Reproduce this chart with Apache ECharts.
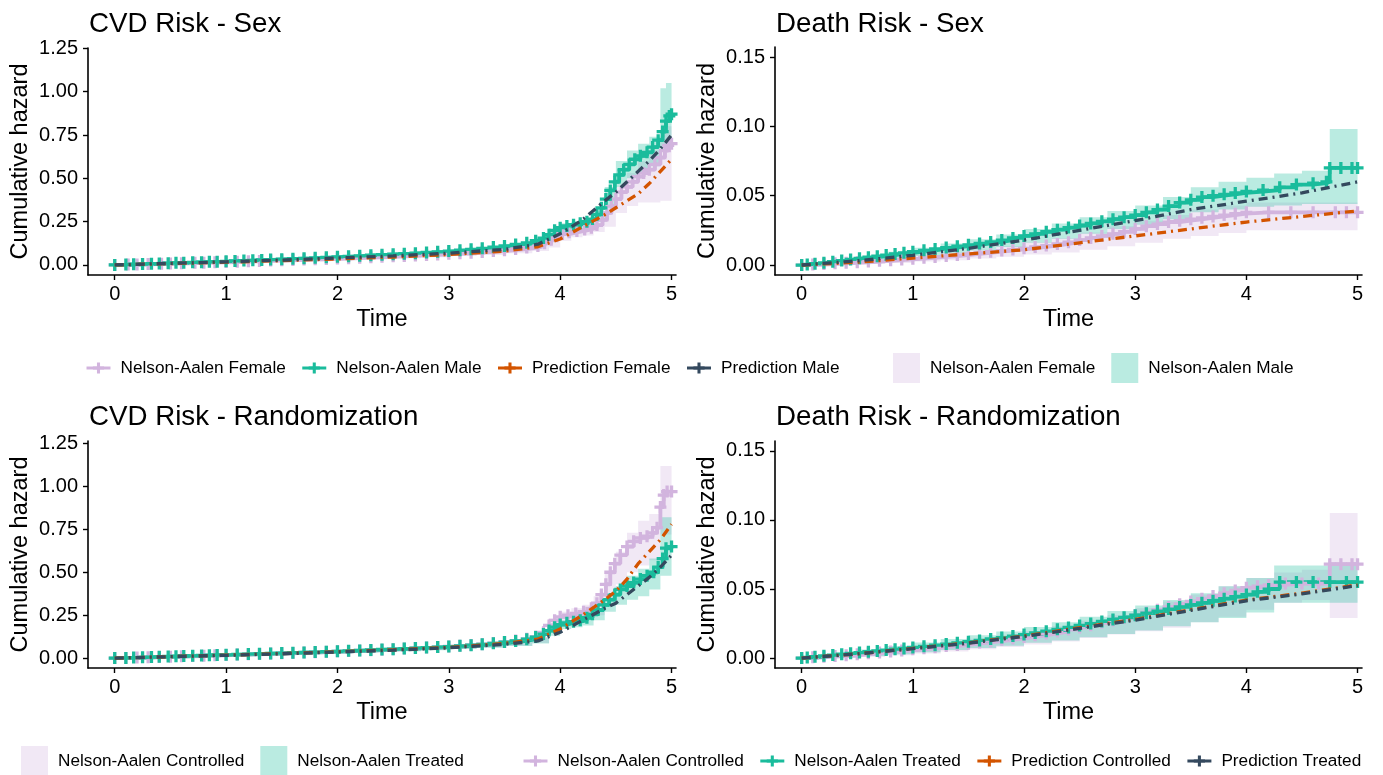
<!DOCTYPE html>
<html>
<head>
<meta charset="utf-8">
<script src="https://cdn.jsdelivr.net/npm/echarts@6/dist/echarts.min.js"></script>
<style>
html, body { margin: 0; padding: 0; background: #fff; }
#main { width: 1383px; height: 775px; }
</style>
</head>
<body>
<div id="main"></div>
<script>
// Nelson-Aalen steps are [time, cumulative hazard]; bands are [time, lower, upper]

// ---- CVD risk by sex ----
let cvdSexFemale = [[0,0],[0.12,0.002],[0.2,0.003],[0.3,0.005],[0.42,0.007],[0.5,0.008],[0.6,0.01],[0.72,0.012],[0.8,0.013],[0.9,0.015],[1.0,0.017],[1.1,0.019],[1.2,0.021],[1.3,0.023],[1.4,0.025],[1.5,0.027],[1.6,0.029],[1.7,0.031],[1.8,0.033],[1.9,0.035],[2.0,0.037],[2.1,0.039],[2.2,0.042],[2.3,0.044],[2.4,0.047],[2.5,0.05],[2.6,0.052],[2.7,0.055],[2.8,0.058],[2.9,0.061],[3.0,0.064],[3.1,0.067],[3.2,0.071],[3.3,0.075],[3.4,0.08],[3.5,0.085],[3.6,0.092],[3.7,0.1],[3.8,0.11],[3.86,0.125],[3.92,0.145],[3.97,0.165],[4.02,0.178],[4.08,0.188],[4.15,0.196],[4.22,0.205],[4.28,0.215],[4.33,0.23],[4.38,0.26],[4.42,0.3],[4.46,0.34],[4.5,0.38],[4.55,0.42],[4.6,0.45],[4.65,0.48],[4.7,0.51],[4.75,0.53],[4.8,0.55],[4.85,0.58],[4.9,0.62],[4.94,0.66],[4.97,0.69],[5.0,0.7]]
let cvdSexMale = [[0,0],[0.1,0.002],[0.17,0.004],[0.25,0.005],[0.33,0.007],[0.4,0.008],[0.48,0.01],[0.55,0.012],[0.62,0.013],[0.7,0.015],[0.78,0.016],[0.85,0.018],[0.92,0.019],[1.0,0.021],[1.08,0.023],[1.16,0.025],[1.24,0.027],[1.32,0.029],[1.4,0.031],[1.5,0.033],[1.6,0.036],[1.7,0.038],[1.8,0.041],[1.9,0.044],[2.0,0.047],[2.1,0.05],[2.2,0.053],[2.3,0.056],[2.4,0.059],[2.5,0.062],[2.6,0.065],[2.7,0.068],[2.8,0.072],[2.9,0.076],[3.0,0.08],[3.1,0.085],[3.2,0.09],[3.3,0.096],[3.4,0.103],[3.5,0.11],[3.6,0.118],[3.7,0.128],[3.78,0.14],[3.85,0.155],[3.9,0.175],[3.95,0.2],[4.0,0.215],[4.06,0.225],[4.12,0.232],[4.18,0.24],[4.24,0.25],[4.29,0.265],[4.33,0.29],[4.37,0.33],[4.41,0.38],[4.45,0.43],[4.49,0.48],[4.53,0.52],[4.57,0.55],[4.62,0.58],[4.67,0.61],[4.72,0.63],[4.78,0.65],[4.83,0.68],[4.88,0.72],[4.92,0.77],[4.95,0.83],[4.98,0.86],[5.0,0.87]]
let cvdSexPredFemale = [[0,0],[0.5,0.008],[1,0.016],[1.5,0.025],[2,0.035],[2.5,0.046],[3,0.06],[3.5,0.08],[3.8,0.105],[4,0.15],[4.2,0.22],[4.4,0.29],[4.5,0.33],[4.6,0.37],[4.7,0.41],[4.8,0.47],[4.9,0.54],[5,0.61]]
let cvdSexPredMale = [[0,0],[0.5,0.009],[1,0.018],[1.5,0.028],[2,0.04],[2.5,0.052],[3,0.068],[3.5,0.09],[3.8,0.12],[4,0.18],[4.2,0.26],[4.4,0.37],[4.5,0.42],[4.6,0.48],[4.7,0.54],[4.8,0.6],[4.9,0.67],[5,0.75]]
let cvdSexFemaleBand = [[0,0,0],[0.25,0.002,0.008],[0.5,0.005,0.012],[0.75,0.009,0.017],[1.0,0.013,0.022],[1.25,0.017,0.027],[1.5,0.021,0.032],[1.75,0.025,0.038],[2.0,0.029,0.044],[2.25,0.034,0.05],[2.5,0.039,0.057],[2.75,0.045,0.065],[3.0,0.051,0.074],[3.25,0.058,0.085],[3.5,0.068,0.098],[3.75,0.08,0.115],[3.9,0.1,0.16],[4.0,0.14,0.2],[4.1,0.16,0.215],[4.2,0.17,0.235],[4.3,0.19,0.26],[4.4,0.22,0.32],[4.5,0.3,0.45],[4.6,0.34,0.53],[4.7,0.36,0.6],[4.8,0.36,0.66],[4.9,0.37,0.8],[5.0,0.37,0.8]]
let cvdSexMaleBand = [[0,0,0],[0.25,0.003,0.008],[0.5,0.007,0.013],[0.75,0.012,0.019],[1.0,0.017,0.025],[1.25,0.022,0.031],[1.5,0.028,0.038],[1.75,0.034,0.045],[2.0,0.041,0.053],[2.25,0.047,0.06],[2.5,0.054,0.069],[2.75,0.061,0.078],[3.0,0.07,0.089],[3.25,0.08,0.102],[3.5,0.095,0.12],[3.75,0.115,0.145],[3.9,0.16,0.2],[4.0,0.195,0.24],[4.1,0.21,0.25],[4.2,0.22,0.265],[4.3,0.25,0.31],[4.4,0.34,0.45],[4.5,0.45,0.6],[4.6,0.5,0.66],[4.7,0.53,0.7],[4.8,0.57,0.74],[4.9,0.68,1.02],[4.95,0.7,1.05],[5.0,0.7,1.05]]

// ---- Death risk by sex ----
let deathSexFemale = [[0,0],[0.1,0.0003],[0.2,0.0007],[0.3,0.0012],[0.4,0.0016],[0.5,0.002],[0.6,0.0025],[0.7,0.003],[0.8,0.0035],[0.9,0.004],[1.0,0.0046],[1.1,0.0052],[1.2,0.0058],[1.3,0.0065],[1.4,0.0072],[1.5,0.008],[1.6,0.0088],[1.7,0.0096],[1.8,0.0104],[1.9,0.0112],[2.0,0.012],[2.1,0.013],[2.2,0.014],[2.3,0.0152],[2.4,0.0165],[2.5,0.018],[2.6,0.0195],[2.7,0.021],[2.8,0.0225],[2.9,0.024],[3.0,0.026],[3.1,0.028],[3.2,0.0295],[3.3,0.031],[3.4,0.032],[3.5,0.033],[3.6,0.034],[3.7,0.035],[3.8,0.036],[3.9,0.037],[4.0,0.038],[4.2,0.038],[4.4,0.038],[4.6,0.038],[4.8,0.038],[4.9,0.038],[5.0,0.038]]
let deathSexMale = [[0,0],[0.05,0.0004],[0.12,0.001],[0.2,0.0016],[0.28,0.0024],[0.36,0.0032],[0.44,0.004],[0.52,0.0048],[0.6,0.0056],[0.68,0.0064],[0.76,0.0072],[0.84,0.008],[0.92,0.0088],[1.0,0.0096],[1.1,0.0106],[1.2,0.0116],[1.3,0.0126],[1.4,0.0136],[1.5,0.0146],[1.6,0.0156],[1.7,0.0166],[1.8,0.018],[1.9,0.0195],[2.0,0.021],[2.1,0.0225],[2.2,0.024],[2.3,0.0255],[2.4,0.027],[2.5,0.0285],[2.6,0.03],[2.7,0.0315],[2.8,0.033],[2.9,0.0345],[3.0,0.036],[3.1,0.038],[3.2,0.04],[3.3,0.0425],[3.4,0.045],[3.5,0.047],[3.6,0.049],[3.7,0.05],[3.8,0.051],[3.9,0.052],[4.0,0.053],[4.15,0.054],[4.3,0.056],[4.45,0.058],[4.6,0.059],[4.72,0.06],[4.75,0.07],[4.85,0.07],[4.95,0.07],[5.0,0.07]]
let deathSexPredFemale = [[0,0],[0.5,0.002],[1,0.005],[1.5,0.008],[2,0.011],[2.5,0.016],[3,0.021],[3.5,0.026],[4,0.031],[4.5,0.035],[5,0.039]]
let deathSexPredMale = [[0,0],[0.5,0.003],[1,0.007],[1.5,0.012],[2,0.018],[2.5,0.025],[3,0.032],[3.5,0.04],[4,0.046],[4.5,0.052],[5,0.06]]
let deathSexFemaleBand = [[0,0,0],[0.25,0.0002,0.002],[0.5,0.0008,0.0035],[0.75,0.0015,0.005],[1.0,0.0025,0.0068],[1.25,0.0035,0.0088],[1.5,0.0047,0.011],[1.75,0.006,0.0135],[2.0,0.0075,0.0165],[2.25,0.009,0.0195],[2.5,0.011,0.0235],[2.75,0.0135,0.028],[3.0,0.016,0.032],[3.25,0.019,0.036],[3.5,0.021,0.04],[3.75,0.023,0.043],[4.0,0.025,0.045],[4.5,0.025,0.045],[5.0,0.025,0.045]]
let deathSexMaleBand = [[0,0,0],[0.25,0.0008,0.003],[0.5,0.0025,0.0065],[0.75,0.0045,0.0095],[1.0,0.0065,0.0125],[1.25,0.0085,0.0155],[1.5,0.0105,0.0185],[1.75,0.013,0.022],[2.0,0.016,0.026],[2.25,0.019,0.03],[2.5,0.0225,0.0345],[2.75,0.026,0.039],[3.0,0.029,0.043],[3.25,0.033,0.049],[3.5,0.038,0.056],[3.75,0.04,0.06],[4.0,0.042,0.063],[4.25,0.043,0.066],[4.5,0.044,0.068],[4.75,0.044,0.098],[5.0,0.044,0.098]]

// ---- CVD risk by randomization ----
let cvdRandCtrl = [[0,0],[0.1,0.001],[0.2,0.003],[0.3,0.005],[0.4,0.006],[0.5,0.008],[0.6,0.01],[0.7,0.012],[0.8,0.014],[0.9,0.016],[1.0,0.018],[1.1,0.02],[1.2,0.022],[1.3,0.024],[1.4,0.026],[1.5,0.028],[1.6,0.03],[1.7,0.032],[1.8,0.034],[1.9,0.036],[2.0,0.039],[2.1,0.041],[2.2,0.044],[2.3,0.046],[2.4,0.049],[2.5,0.052],[2.6,0.055],[2.7,0.058],[2.8,0.061],[2.9,0.064],[3.0,0.068],[3.1,0.072],[3.2,0.076],[3.3,0.081],[3.4,0.087],[3.5,0.094],[3.6,0.102],[3.7,0.112],[3.78,0.125],[3.85,0.15],[3.9,0.19],[3.95,0.22],[4.0,0.24],[4.07,0.25],[4.14,0.26],[4.21,0.27],[4.28,0.29],[4.33,0.32],[4.37,0.37],[4.41,0.43],[4.45,0.5],[4.49,0.55],[4.54,0.6],[4.6,0.65],[4.66,0.68],[4.72,0.7],[4.78,0.71],[4.83,0.73],[4.87,0.76],[4.9,0.88],[4.93,0.95],[4.96,0.97],[5.0,0.97]]
let cvdRandTrt = [[0,0],[0.1,0.001],[0.17,0.003],[0.25,0.004],[0.33,0.006],[0.4,0.007],[0.48,0.009],[0.55,0.01],[0.62,0.012],[0.7,0.013],[0.78,0.015],[0.85,0.016],[0.92,0.018],[1.0,0.019],[1.1,0.021],[1.2,0.023],[1.3,0.025],[1.4,0.027],[1.5,0.029],[1.6,0.031],[1.7,0.033],[1.8,0.035],[1.9,0.037],[2.0,0.039],[2.1,0.042],[2.2,0.044],[2.3,0.047],[2.4,0.05],[2.5,0.052],[2.6,0.055],[2.7,0.058],[2.8,0.061],[2.9,0.064],[3.0,0.067],[3.1,0.071],[3.2,0.075],[3.3,0.08],[3.4,0.086],[3.5,0.093],[3.6,0.1],[3.7,0.11],[3.78,0.122],[3.85,0.14],[3.9,0.16],[3.95,0.18],[4.0,0.195],[4.06,0.205],[4.12,0.212],[4.18,0.22],[4.24,0.235],[4.29,0.255],[4.34,0.28],[4.39,0.31],[4.44,0.34],[4.49,0.37],[4.54,0.4],[4.6,0.42],[4.66,0.44],[4.72,0.46],[4.78,0.48],[4.84,0.5],[4.88,0.53],[4.92,0.58],[4.95,0.64],[5.0,0.65]]
let cvdRandPredCtrl = [[0,0],[0.5,0.008],[1,0.017],[1.5,0.026],[2,0.037],[2.5,0.048],[3,0.062],[3.5,0.085],[3.8,0.11],[4,0.17],[4.2,0.25],[4.4,0.34],[4.5,0.39],[4.6,0.46],[4.7,0.55],[4.8,0.62],[4.9,0.69],[5,0.78]]
let cvdRandPredTrt = [[0,0],[0.5,0.008],[1,0.016],[1.5,0.025],[2,0.035],[2.5,0.046],[3,0.06],[3.5,0.08],[3.8,0.1],[4,0.15],[4.2,0.22],[4.4,0.29],[4.5,0.32],[4.6,0.37],[4.7,0.42],[4.8,0.47],[4.9,0.53],[5,0.6]]
let cvdRandCtrlBand = [[0,0,0],[0.25,0.002,0.007],[0.5,0.005,0.012],[0.75,0.009,0.017],[1.0,0.013,0.022],[1.25,0.017,0.027],[1.5,0.021,0.033],[1.75,0.025,0.039],[2.0,0.03,0.046],[2.25,0.035,0.053],[2.5,0.041,0.061],[2.75,0.047,0.069],[3.0,0.054,0.079],[3.25,0.061,0.09],[3.5,0.072,0.105],[3.75,0.088,0.125],[3.9,0.15,0.23],[4.0,0.2,0.27],[4.1,0.21,0.29],[4.2,0.22,0.31],[4.3,0.25,0.36],[4.4,0.33,0.5],[4.5,0.43,0.62],[4.6,0.5,0.73],[4.7,0.54,0.8],[4.8,0.57,0.84],[4.9,0.72,1.12],[5.0,0.72,1.12]]
let cvdRandTrtBand = [[0,0,0],[0.25,0.002,0.007],[0.5,0.005,0.012],[0.75,0.009,0.017],[1.0,0.013,0.022],[1.25,0.017,0.027],[1.5,0.021,0.033],[1.75,0.025,0.039],[2.0,0.03,0.045],[2.25,0.035,0.052],[2.5,0.04,0.06],[2.75,0.046,0.068],[3.0,0.053,0.078],[3.25,0.06,0.088],[3.5,0.07,0.1],[3.75,0.085,0.12],[3.9,0.13,0.19],[4.0,0.17,0.22],[4.1,0.18,0.235],[4.2,0.19,0.25],[4.3,0.22,0.29],[4.4,0.27,0.35],[4.5,0.31,0.42],[4.6,0.34,0.48],[4.7,0.36,0.52],[4.8,0.4,0.58],[4.9,0.48,0.82],[5.0,0.48,0.82]]

// ---- Death risk by randomization ----
let deathRandCtrl = [[0,0],[0.1,0.0005],[0.2,0.001],[0.3,0.0015],[0.4,0.002],[0.5,0.0027],[0.6,0.0034],[0.7,0.0041],[0.8,0.0048],[0.9,0.0055],[1.0,0.0063],[1.1,0.0071],[1.2,0.0079],[1.3,0.0087],[1.4,0.0095],[1.5,0.0104],[1.6,0.0113],[1.7,0.0122],[1.8,0.0132],[1.9,0.0142],[2.0,0.0153],[2.1,0.0165],[2.2,0.0178],[2.3,0.0192],[2.4,0.0207],[2.5,0.0222],[2.6,0.0238],[2.7,0.0255],[2.8,0.0272],[2.9,0.029],[3.0,0.031],[3.1,0.033],[3.2,0.035],[3.3,0.037],[3.4,0.039],[3.5,0.041],[3.6,0.043],[3.7,0.045],[3.8,0.047],[3.9,0.049],[4.0,0.051],[4.1,0.052],[4.2,0.053],[4.35,0.054],[4.5,0.054],[4.65,0.054],[4.75,0.068],[4.85,0.068],[4.95,0.068],[5.0,0.068]]
let deathRandTrt = [[0,0],[0.05,0.0004],[0.12,0.001],[0.2,0.0016],[0.28,0.0022],[0.36,0.0028],[0.44,0.0034],[0.52,0.004],[0.6,0.0046],[0.68,0.0052],[0.76,0.0058],[0.84,0.0064],[0.92,0.007],[1.0,0.0077],[1.1,0.0085],[1.2,0.0093],[1.3,0.0101],[1.4,0.011],[1.5,0.0119],[1.6,0.0128],[1.7,0.0138],[1.8,0.0148],[1.9,0.0159],[2.0,0.017],[2.1,0.0182],[2.2,0.0195],[2.3,0.0208],[2.4,0.0222],[2.5,0.0236],[2.6,0.025],[2.7,0.0265],[2.8,0.028],[2.9,0.0295],[3.0,0.031],[3.1,0.0325],[3.2,0.034],[3.3,0.0355],[3.4,0.037],[3.5,0.0385],[3.6,0.04],[3.7,0.0415],[3.8,0.043],[3.9,0.0445],[4.0,0.046],[4.1,0.048],[4.2,0.05],[4.3,0.055],[4.45,0.055],[4.6,0.055],[4.75,0.055],[4.9,0.055],[5.0,0.055]]
let deathRandPredCtrl = [[0,0],[0.5,0.003],[1,0.007],[1.5,0.011],[2,0.016],[2.5,0.022],[3,0.028],[3.5,0.035],[4,0.042],[4.5,0.047],[5,0.053]]
let deathRandPredTrt = [[0,0],[0.5,0.003],[1,0.0068],[1.5,0.0108],[2,0.0157],[2.5,0.0215],[3,0.0275],[3.5,0.0345],[4,0.0415],[4.5,0.0465],[5,0.0525]]
let deathRandCtrlBand = [[0,0,0],[0.25,0.0001,0.002],[0.5,0.0008,0.0045],[0.75,0.002,0.0068],[1.0,0.0033,0.009],[1.25,0.0048,0.0115],[1.5,0.0063,0.014],[1.75,0.008,0.0165],[2.0,0.0098,0.0195],[2.25,0.012,0.023],[2.5,0.0145,0.027],[2.75,0.017,0.031],[3.0,0.0195,0.036],[3.25,0.022,0.041],[3.5,0.026,0.046],[3.75,0.03,0.052],[4.0,0.035,0.058],[4.25,0.04,0.062],[4.5,0.042,0.064],[4.75,0.029,0.105],[5.0,0.029,0.105]]
let deathRandTrtBand = [[0,0,0],[0.25,0.0004,0.003],[0.5,0.0015,0.0062],[0.75,0.0028,0.0088],[1.0,0.0042,0.0112],[1.25,0.0058,0.0138],[1.5,0.0073,0.0165],[1.75,0.009,0.0192],[2.0,0.011,0.0225],[2.25,0.0128,0.026],[2.5,0.015,0.03],[2.75,0.0175,0.034],[3.0,0.02,0.038],[3.25,0.023,0.042],[3.5,0.026,0.047],[3.75,0.029,0.052],[4.0,0.033,0.058],[4.25,0.04,0.067],[4.5,0.04,0.067],[4.75,0.04,0.067],[5.0,0.04,0.067]]

let xTicks = [0, 1, 2, 3, 4, 5]
let cvdTicks = [0, 0.25, 0.5, 0.75, 1, 1.25]
let deathTicks = [0, 0.05, 0.1, 0.15]

const PURPLE = '#D2B4DE'
const GREEN = '#1ABC9C'
const ORANGE = '#D35400'
const SLATE = '#34495E'
const PURPLE_FILL = 'rgba(210,180,222,0.3)'
const GREEN_FILL = 'rgba(26,188,156,0.3)'
const PLUS = 'path://M-1.5,-5.5H1.5V-1.5H5.5V1.5H1.5V5.5H-1.5V1.5H-5.5V-1.5H-1.5Z'
const FONT = 'Liberation Sans, Arial, sans-serif'

let myChart = echarts.init(document.getElementById('main'))

function naLine(name, data, color, gi) {
    return {
        type: 'line', name: name, xAxisIndex: gi, yAxisIndex: gi,
        step: 'end', data: data, z: 3,
        symbol: PLUS, symbolSize: 12, showSymbol: true,
        color: color,
        itemStyle: { color: color, borderWidth: 0 },
        lineStyle: { color: color, width: 3.8 },
        animation: false
    }
}

function predLine(name, data, color, gi) {
    return {
        type: 'line', name: name, xAxisIndex: gi, yAxisIndex: gi,
        data: data, z: 4,
        symbol: PLUS, showSymbol: false,
        color: color,
        itemStyle: { color: color, borderWidth: 0 },
        lineStyle: { color: color, width: 3.3, type: [9, 5, 2, 5] },
        animation: false
    }
}

// confidence band drawn as one stepped polygon
function band(name, data, fill, gi) {
    return {
        type: 'custom', name: name, xAxisIndex: gi, yAxisIndex: gi, z: 1,
        silent: true, animation: false,
        data: data,
        renderItem: (params, api) => {
            if (params.dataIndex !== 0) return null
            let pts = []
            for (let i = 0; i < data.length - 1; i++) {
                pts.push(api.coord([data[i][0], data[i][2]]))
                pts.push(api.coord([data[i + 1][0], data[i][2]]))
            }
            for (let i = data.length - 2; i >= 0; i--) {
                pts.push(api.coord([data[i + 1][0], data[i][1]]))
                pts.push(api.coord([data[i][0], data[i][1]]))
            }
            return { type: 'polygon', shape: { points: pts }, style: { fill: fill } }
        }
    }
}

let grids = [
    { left: 88, top: 48, width: 588, height: 227 },
    { left: 775, top: 47, width: 587, height: 228 },
    { left: 88, top: 441, width: 588, height: 227 },
    { left: 775, top: 441, width: 587, height: 227 }
]
let yRanges = [[-0.058, 1.252], [-0.0072, 0.1572], [-0.058, 1.265], [-0.0072, 0.1572]]

let xAxes = grids.map((g, i) => ({
    type: 'value', gridIndex: i, min: -0.24, max: 5.04,
    name: 'Time', nameLocation: 'middle', nameGap: 33,
    nameTextStyle: { fontSize: 23.5, color: '#000', fontFamily: FONT },
    axisLine: { onZero: false, lineStyle: { color: '#000', width: 1.6 } },
    axisTick: { length: 5, lineStyle: { color: '#000', width: 1.4 }, customValues: xTicks },
    axisLabel: { fontSize: 20, color: '#000', margin: 9, fontFamily: FONT, customValues: xTicks },
    splitLine: { show: false }
}))

let yAxes = grids.map((g, i) => {
    let ticks = i % 2 === 0 ? cvdTicks : deathTicks
    return {
        type: 'value', gridIndex: i, min: yRanges[i][0], max: yRanges[i][1],
        name: 'Cumulative hazard', nameLocation: 'middle', nameGap: 55,
        nameTextStyle: { fontSize: 23.5, color: '#000', fontFamily: FONT },
        axisLine: { show: true, onZero: false, lineStyle: { color: '#000', width: 1.6 } },
        axisTick: { show: true, length: 5, lineStyle: { color: '#000', width: 1.4 }, customValues: ticks },
        axisLabel: { fontSize: 20, color: '#000', margin: 10, fontFamily: FONT, customValues: ticks,
            formatter: v => v.toFixed(2) },
        splitLine: { show: false }
    }
})

let titles = [
    ['CVD Risk - Sex', 89, 10],
    ['Death Risk - Sex', 776, 10],
    ['CVD Risk - Randomization', 89, 403],
    ['Death Risk - Randomization', 776, 403]
].map(d => ({
    text: d[0], left: d[1], top: d[2], padding: 0,
    textStyle: { fontSize: 27.7, fontWeight: 'normal', color: '#000', fontFamily: FONT }
}))

let series = [
    naLine('Nelson-Aalen Female', cvdSexFemale, PURPLE, 0),
    naLine('Nelson-Aalen Male', cvdSexMale, GREEN, 0),
    predLine('Prediction Female', cvdSexPredFemale, ORANGE, 0),
    predLine('Prediction Male', cvdSexPredMale, SLATE, 0),

    naLine('Nelson-Aalen Female', deathSexFemale, PURPLE, 1),
    naLine('Nelson-Aalen Male', deathSexMale, GREEN, 1),
    predLine('Prediction Female', deathSexPredFemale, ORANGE, 1),
    predLine('Prediction Male', deathSexPredMale, SLATE, 1),

    naLine('Nelson-Aalen Controlled', cvdRandCtrl, PURPLE, 2),
    naLine('Nelson-Aalen Treated', cvdRandTrt, GREEN, 2),
    predLine('Prediction Controlled', cvdRandPredCtrl, ORANGE, 2),
    predLine('Prediction Treated', cvdRandPredTrt, SLATE, 2),

    naLine('Nelson-Aalen Controlled', deathRandCtrl, PURPLE, 3),
    naLine('Nelson-Aalen Treated', deathRandTrt, GREEN, 3),
    predLine('Prediction Controlled', deathRandPredCtrl, ORANGE, 3),
    predLine('Prediction Treated', deathRandPredTrt, SLATE, 3),

    band('Nelson-Aalen Female', cvdSexFemaleBand, PURPLE_FILL, 0),
    band('Nelson-Aalen Male', cvdSexMaleBand, GREEN_FILL, 0),
    band('Nelson-Aalen Female', deathSexFemaleBand, PURPLE_FILL, 1),
    band('Nelson-Aalen Male', deathSexMaleBand, GREEN_FILL, 1),
    band('Nelson-Aalen Controlled', cvdRandCtrlBand, PURPLE_FILL, 2),
    band('Nelson-Aalen Treated', cvdRandTrtBand, GREEN_FILL, 2),
    band('Nelson-Aalen Controlled', deathRandCtrlBand, PURPLE_FILL, 3),
    band('Nelson-Aalen Treated', deathRandTrtBand, GREEN_FILL, 3)
]

function lineLegend(left, top, names) {
    return {
        left: left, top: top, padding: 0, orient: 'horizontal',
        itemWidth: 24, itemHeight: 14, itemGap: 15, selectedMode: false,
        lineStyle: { type: 'solid', width: 3 },
        textStyle: { fontSize: 17.2, color: '#000', fontFamily: FONT, padding: [0, 0, 0, 5] },
        data: names
    }
}

function fillLegend(left, top, names, fills) {
    return {
        left: left, top: top, padding: 0, orient: 'horizontal',
        itemWidth: 27, itemHeight: 30, itemGap: 16, selectedMode: false,
        textStyle: { fontSize: 17.2, color: '#000', fontFamily: FONT, padding: [0, 0, 0, 5] },
        data: names.map((n, i) => ({ name: n, icon: 'rect', itemStyle: { color: fills[i], borderWidth: 0 } }))
    }
}

let option = {
    animation: false,
    textStyle: { fontFamily: FONT },
    title: titles,
    grid: grids.map(g => Object.assign({ outerBoundsMode: 'none', containLabel: false }, g)),
    xAxis: xAxes,
    yAxis: yAxes,
    legend: [
        lineLegend(85, 359.5, ['Nelson-Aalen Female', 'Nelson-Aalen Male', 'Prediction Female', 'Prediction Male']),
        fillLegend(893, 353, ['Nelson-Aalen Female', 'Nelson-Aalen Male'], [PURPLE_FILL, GREEN_FILL]),
        fillLegend(21, 746, ['Nelson-Aalen Controlled', 'Nelson-Aalen Treated'], [PURPLE_FILL, GREEN_FILL]),
        lineLegend(522, 752.5, ['Nelson-Aalen Controlled', 'Nelson-Aalen Treated', 'Prediction Controlled', 'Prediction Treated'])
    ],
    series: series
}

myChart.setOption(option)
</script>
</body>
</html>
